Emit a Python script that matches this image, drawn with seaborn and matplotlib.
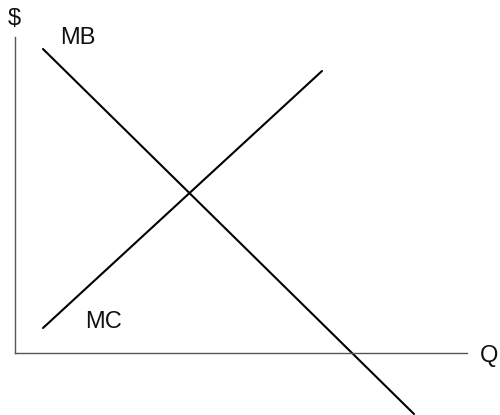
import matplotlib
matplotlib.use("Agg")
import matplotlib.pyplot as plt
import seaborn as sns
import pandas as pd

# Curve data (Q, $) in chart units
mb_q = [2.8, 39.9]
mb_p = [30.4, -6.1]
mc_q = [2.8, 30.7]
mc_p = [2.5, 28.2]
curve_labels = ["MB", "MC"]
axis_labels = ["$", "Q"]

df = pd.DataFrame({
    "Q": mb_q + mc_q,
    "P": mb_p + mc_p,
    "curve": [curve_labels[0]] * len(mb_q) + [curve_labels[1]] * len(mc_q),
})

sns.set_style("white")
plt.rcParams['font.family'] = ['Liberation Sans', 'DejaVu Sans']

fig = plt.figure(figsize=(5.0, 4.15), dpi=100)
ax = fig.add_axes([0, 0, 1, 1])

sns.lineplot(data=df, x="Q", y="P", hue="curve", units="curve", estimator=None,
             palette={"MB": "black", "MC": "black"}, linewidth=1.5, legend=False,
             sort=False, ax=ax)

ax.set_xlim(-1.5, 48.5)
ax.set_ylim(-6.2, 35.3)

for s in ["top", "right"]:
    ax.spines[s].set_visible(False)
ax.spines["left"].set_position(("data", 0))
ax.spines["bottom"].set_position(("data", 0))
ax.spines["left"].set_bounds(0, 31.6)
ax.spines["bottom"].set_bounds(0, 45.2)
for s in ["left", "bottom"]:
    ax.spines[s].set_color("#555555")
    ax.spines[s].set_linewidth(1.0)
ax.set_xticks([])
ax.set_yticks([])
ax.set_xlabel("")
ax.set_ylabel("")
ax.patch.set_alpha(0)

fs = 17
ax.text(-0.1, 33.4, axis_labels[0], ha="center", va="center", fontsize=fs, color="#111111")
ax.text(47.45, -0.3, axis_labels[1], ha="center", va="center", fontsize=fs, color="#111111")
ax.text(6.25, 31.5, curve_labels[0], ha="center", va="center", fontsize=fs, color="#111111")
ax.text(8.85, 3.1, curve_labels[1], ha="center", va="center", fontsize=fs, color="#111111")

fig.savefig("out.png", dpi=100, facecolor="white")
